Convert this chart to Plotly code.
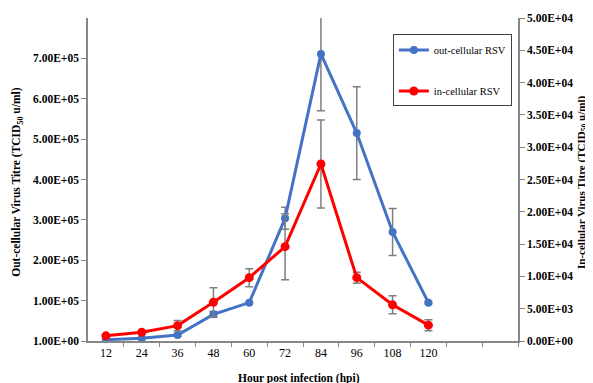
import plotly.graph_objects as go

hours = [12, 24, 36, 48, 60, 72, 84, 96, 108, 120]
x_tick_labels = ["12", "24", "36", "48", "60", "72", "84", "96", "108", "120"]

out_cellular = [3000, 7000, 15000, 66000, 95000, 304000, 711000, 515000, 270000, 95000]
out_cellular_err = [0, 0, 3000, 7000, 0, 27000, 141000, 115000, 58000, 3000]

in_cellular = [800, 1350, 2380, 6000, 9800, 14600, 27400, 9800, 5600, 2450]
in_cellular_err = [0, 0, 800, 2250, 1400, 5100, 6800, 850, 1400, 850]

left_tickvals = [0, 1e5, 2e5, 3e5, 4e5, 5e5, 6e5, 7e5]
left_ticktext = ["1.00E+00", "1.00E+05", "2.00E+05", "3.00E+05", "4.00E+05",
                 "5.00E+05", "6.00E+05", "7.00E+05"]
right_tickvals = [0, 5e3, 1e4, 1.5e4, 2e4, 2.5e4, 3e4, 3.5e4, 4e4, 4.5e4, 5e4]
right_ticktext = ["0.00E+00", "5.00E+03", "1.00E+04", "1.50E+04", "2.00E+04",
                  "2.50E+04", "3.00E+04", "3.50E+04", "4.00E+04", "4.50E+04", "5.00E+04"]
category_dividers = [18, 30, 42, 54, 66, 78, 90, 102, 114, 126, 138, 150]

FONT = "Liberation Serif"
BLUE = "#4472C4"
RED = "#FF0000"
GREY = "#7F7F7F"
AXIS = "#868686"

fig = go.Figure()
fig.add_trace(go.Scatter(
    x=hours, y=out_cellular, name="out-cellular RSV", yaxis="y",
    mode="lines+markers", legendgroup="a",
    line=dict(color=BLUE, width=3), marker=dict(color=BLUE, size=8),
    error_y=dict(type="data", array=out_cellular_err, symmetric=True,
                 color=GREY, thickness=1.5, width=4),
))
fig.add_trace(go.Scatter(
    x=hours, y=in_cellular, name="in-cellular RSV", yaxis="y2",
    mode="lines+markers", legendgroup="b",
    line=dict(color=RED, width=3), marker=dict(color=RED, size=9),
    error_y=dict(type="data", array=in_cellular_err, symmetric=True,
                 color=GREY, thickness=1.5, width=4),
))

# The page body adds an 8px offset, so the figure is 8px smaller and margins shifted.
fig.update_layout(
    template="none",
    width=585, height=375,
    margin=dict(l=80, r=75, t=10, b=42, autoexpand=False),
    paper_bgcolor="white", plot_bgcolor="white",
    font=dict(family=FONT, color="black"),
    showlegend=True,
    legend=dict(x=0.709, y=0.949, xanchor="left", yanchor="top",
                bordercolor="#404040", borderwidth=1, bgcolor="white",
                font=dict(family=FONT, size=10.5, color="black"),
                tracegroupgap=22, itemwidth=30),
    xaxis=dict(
        range=[6, 150], tickvals=hours, ticktext=x_tick_labels,
        ticks="", showgrid=False, zeroline=False, automargin=False,
        showline=True, linecolor=AXIS, linewidth=1.5,
        tickfont=dict(family=FONT, size=12, color="black"),
        minor=dict(tickvals=category_dividers, ticks="outside", ticklen=4,
                   tickcolor=AXIS, tickwidth=1.2, showgrid=False),
    ),
    yaxis=dict(
        range=[0, 8e5], tickvals=left_tickvals, ticktext=left_ticktext,
        ticks="outside", ticklen=5, tickcolor=AXIS, tickwidth=1.2,
        showgrid=False, zeroline=False, automargin=False,
        showline=True, linecolor=AXIS, linewidth=1.5,
        tickfont=dict(family=FONT, size=11.5, color="black", weight="bold"),
    ),
    yaxis2=dict(
        range=[0, 5e4], tickvals=right_tickvals, ticktext=right_ticktext,
        overlaying="y", side="right", automargin=False,
        ticks="outside", ticklen=5, tickcolor=AXIS, tickwidth=1.2,
        showgrid=False, zeroline=False,
        showline=True, linecolor=AXIS, linewidth=1.5,
        tickfont=dict(family=FONT, size=11.5, color="black", weight="bold"),
    ),
    annotations=[
        dict(text="<b>Out-cellular Virus Titre (TCID<sub>50</sub> u/ml)</b>",
             xref="paper", yref="paper", x=-0.165, y=0.49, textangle=-90,
             showarrow=False, xanchor="center", yanchor="middle",
             font=dict(family=FONT, size=11.5, color="black")),
        dict(text="<b>In-cellular Virus Titre (TCID<sub>50</sub> u/ml)</b>",
             xref="paper", yref="paper", x=1.168, y=0.49, textangle=-90,
             showarrow=False, xanchor="right", yanchor="middle",
             font=dict(family=FONT, size=11, color="black")),
        dict(text="<b>Hour post infection (hpi)</b>",
             xref="paper", yref="paper", x=0.49, y=-0.115,
             showarrow=False, xanchor="center", yanchor="middle",
             font=dict(family=FONT, size=11.5, color="black")),
    ],
)

fig.write_html("out.html")
